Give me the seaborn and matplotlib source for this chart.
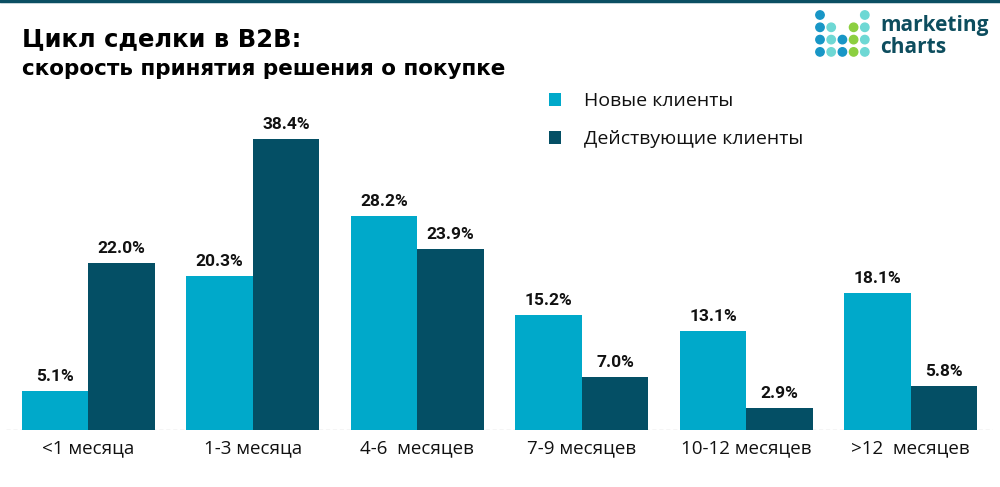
import matplotlib
matplotlib.use("Agg")
import matplotlib.pyplot as plt
from matplotlib.patches import Patch, Ellipse
import seaborn as sns
import pandas as pd

categories = ["<1 месяца", "1-3 месяца", "4-6  месяцев", "7-9 месяцев", "10-12 месяцев", ">12  месяцев"]
series_names = ["Новые клиенты", "Действующие клиенты"]
new_clients = [5.1, 20.3, 28.2, 15.2, 13.1, 18.1]
existing_clients = [22.0, 38.4, 23.9, 7.0, 2.9, 5.8]
colors = ["#00A9CA", "#044F65"]

df = pd.DataFrame({
    "cat": categories * 2,
    "series": [series_names[0]] * len(categories) + [series_names[1]] * len(categories),
    "value": new_clients + existing_clients,
})

sns.set_theme(style="white")
plt.rcParams["font.family"] = ["DejaVu Sans"]

fig = plt.figure(figsize=(10, 4.87), dpi=100)
ax = fig.add_axes([0.006, 0.117, 0.987, 0.70])

sns.barplot(data=df, x="cat", y="value", hue="series", palette=colors,
            width=0.81, ax=ax, legend=False, saturation=1, edgecolor="none")

for cont in ax.containers:
    ax.bar_label(cont, labels=[f"{v:.1f}%" for v in cont.datavalues], padding=5,
                 fontsize=12.5, fontweight="bold", family="Roboto", color="#111111")

ax.set_xlim(-0.5, len(categories) - 0.5)
ax.set_ylim(0, 45)
ax.set_xlabel("")
ax.set_ylabel("")
ax.set_yticks([])
for s in ["top", "right", "left", "bottom"]:
    ax.spines[s].set_visible(False)
ax.axhline(0, color="#D0D0D0", lw=1, ls=(0, (3, 2)), zorder=0)
ax.set_xticks(range(len(categories)))
ax.set_xticklabels(categories, fontsize=13.5, family="Open Sans", color="#111111")
ax.tick_params(axis="x", which="major", length=0, pad=7)
ax.set_xticks([i - 0.5 for i in range(len(categories) + 1)], minor=True)
ax.tick_params(axis="x", which="minor", length=5, color="#D0D0D0", width=1)

# legend
handles = [Patch(facecolor=c, edgecolor="none") for c in colors]
fig.legend(handles, series_names, loc="upper left", bbox_to_anchor=(0.531, 0.847),
           frameon=False, handlelength=0.65, handleheight=0.65, handletextpad=1.2,
           labelspacing=1.05, prop={"family": "Open Sans", "size": 14},
           labelcolor="#111111")

# titles
fig.text(0.022, 0.905, "Цикл сделки в B2B:", fontsize=17.5, fontweight="bold",
         color="#000000", va="baseline")
fig.text(0.022, 0.845, "скорость принятия решения о покупке", fontsize=15.5,
         fontweight="bold", color="#000000", va="baseline")

# top border
fig.add_artist(plt.Line2D([0, 1], [0.997, 0.997], color="#0B4F63", lw=2.5,
                          transform=fig.transFigure))

# logo
W, H = 1000, 487
blue, teal, green = "#1896C6", "#6ED8D4", "#8CCF40"
dots = [
    (0, 0, blue), (4, 0, teal),
    (0, 1, blue), (1, 1, teal), (3, 1, green), (4, 1, teal),
    (0, 2, blue), (1, 2, teal), (2, 2, blue), (3, 2, green), (4, 2, teal),
    (0, 3, blue), (1, 3, teal), (2, 3, blue), (3, 3, green), (4, 3, teal),
]
for cx, cy, c in dots:
    px = 820 + cx * 11.2
    py = 15 + cy * 12.3
    fig.add_artist(Ellipse((px / W, 1 - py / H), 8.4 / W, 8.4 / H, color=c,
                           transform=fig.transFigure))
fig.text(880 / W, 1 - 31 / H, "marketing", fontsize=15, fontweight="bold",
         color="#0D4D5E", va="baseline", family="Open Sans")
fig.text(880 / W, 1 - 53 / H, "charts", fontsize=15, fontweight="bold",
         color="#0D4D5E", va="baseline", family="Open Sans")

fig.savefig("out.png", dpi=100)
